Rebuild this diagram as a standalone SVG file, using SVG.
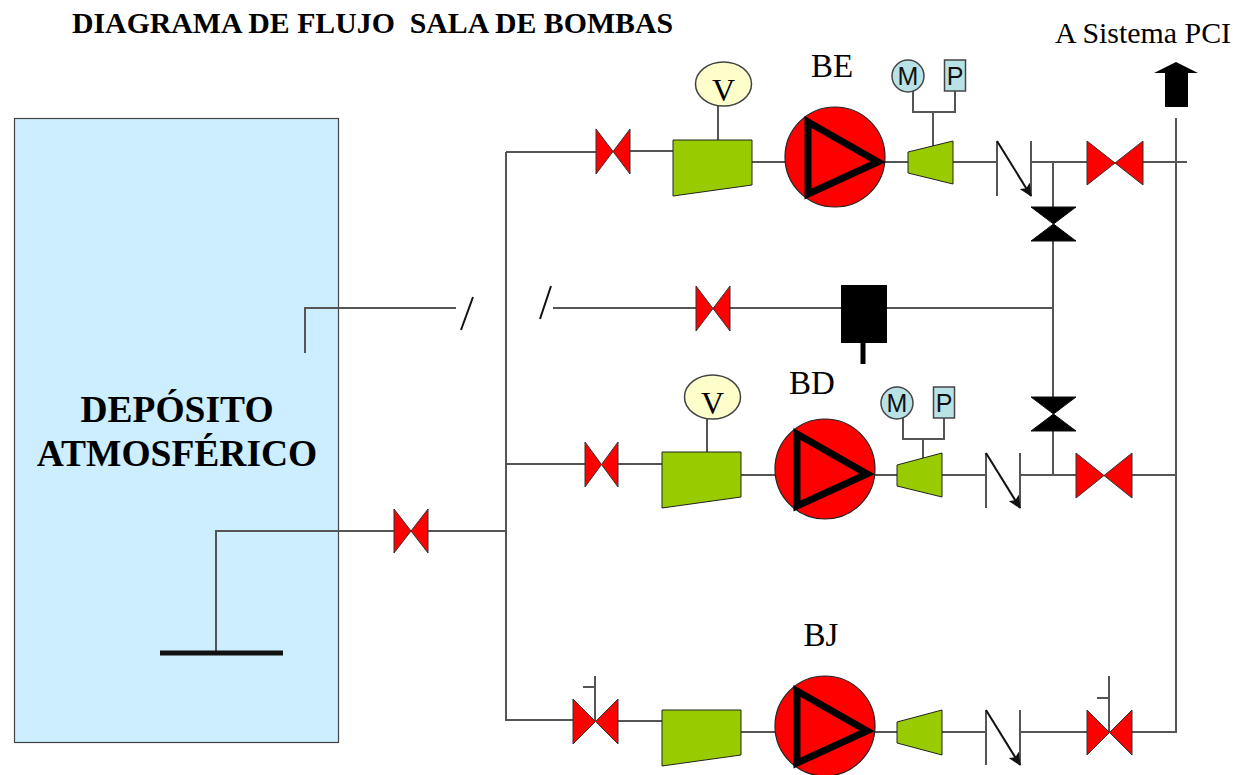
<svg xmlns="http://www.w3.org/2000/svg" width="1251" height="775" viewBox="0 0 1251 775">
<style>
.ln{fill:none;stroke:#555;stroke-width:2}
.blk{fill:none;stroke:#111;stroke-width:2}
.v{fill:#f00;stroke:#333;stroke-width:1}
.g{fill:#9c0;stroke:#222;stroke-width:1}
.p{fill:#f00;stroke:#222;stroke-width:1.2}
.t{fill:none;stroke:#000;stroke-width:7;stroke-linejoin:miter}
.inst{fill:#b9e2e6;stroke:#444;stroke-width:1.5}
.vg{fill:#ffc;stroke:#444;stroke-width:1.5}
.s{font-family:"Liberation Serif",serif;fill:#000}
.a{font-family:"Liberation Sans",sans-serif;fill:#111;font-size:25px;text-anchor:middle}
.b{font-weight:bold}
</style>
<defs>
<marker id="ah" markerWidth="14" markerHeight="12" refX="12" refY="6" orient="auto" markerUnits="userSpaceOnUse"><path d="M0,0L13,6L0,12L3,6Z" fill="#111"/></marker>
</defs>
<rect id="tank" x="14.500" y="118.500" width="324" height="624" fill="#cef" stroke="#444" stroke-width="1.200"/>
<text class="s b" x="72" y="33" font-size="29.800" xml:space="preserve">DIAGRAMA DE FLUJO  SALA DE BOMBAS</text>
<text class="s" x="1055" y="43" font-size="29.900">A Sistema PCI</text>
<text class="s b" x="177" y="422" font-size="37.500" text-anchor="middle">DEPÓSITO</text>
<text class="s b" x="177" y="466" font-size="37.500" text-anchor="middle">ATMOSFÉRICO</text>
<g id="connectors">
<path class="ln" d="M216,653V531H394M428,531H506M506,152V720H573M506,152H596M630,151H673M752,162H785M885,162H908M953,162H997M1031,162H1087M1143,162H1187M1176,118V732H1132M1053,162V207M1053,241V397M1053,431V475M506,464H585M618,464H662M741,475H775M875,475H897M942,475H986M1020,475H1076M1132,475H1176M618,721H662M741,732H775M875,732H897M942,732H986M1020,732H1087"/>
<path class="ln" d="M305,353V308H456M553,308H696M730,308H1053M718,106V140M707,419V452"/>
<path class="ln" d="M913,91V112H955V91M933,112V147M903,418V439H944V418M923,439V460"/>
<path class="ln" d="M595,721V676M583,687H595M1109,732V676M1097,698H1109"/>
<path class="blk" d="M461,330L473,297M540,319L551,286"/>
<path d="M160,653H283" fill="none" stroke="#111" stroke-width="5"/>
</g>
<g id="valve-main"><path class="v" d="M394,509L428,553V509L394,553Z"/></g>
<g id="valve-be-in"><path class="v" d="M596,129L630,174V129L596,174Z"/></g>
<g id="valve-bd-in"><path class="v" d="M585,442L618,487V442L585,487Z"/></g>
<g id="valve-bj-in"><path class="v" d="M573,699L618,744V699L573,744Z"/></g>
<g id="valve-test"><path class="v" d="M696,286L730,331V286L696,331Z"/></g>
<g id="valve-be-out"><path class="v" d="M1087,141L1143,185V141L1087,185Z"/></g>
<g id="valve-bd-out"><path class="v" d="M1076,453L1132,498V453L1076,498Z"/></g>
<g id="valve-bj-out"><path class="v" d="M1087,710L1132,755V710L1087,755Z"/></g>
<g id="valve-black-1"><path d="M1031,207H1076L1031,241H1076Z" fill="#000" stroke="#111"/></g>
<g id="valve-black-2"><path d="M1031,397H1076L1031,431H1076Z" fill="#000" stroke="#111"/></g>
<g id="be-suction"><path class="g" d="M673,140H752V185L673,196Z"/></g>
<g id="bd-suction"><path class="g" d="M662,452H741V497L662,508Z"/></g>
<g id="bj-suction"><path class="g" d="M662,710H741V755L662,766Z"/></g>
<g id="be-discharge"><path class="g" d="M908,152L953,141V184L908,173Z"/></g>
<g id="bd-discharge"><path class="g" d="M897,465L942,453V497L897,486Z"/></g>
<g id="bj-discharge"><path class="g" d="M897,722L942,710V755L897,743Z"/></g>
<g id="pump-be"><circle class="p" cx="835" cy="157" r="50"/><path class="t" d="M808,122V194L878,162Z"/><text class="s" x="832" y="77" font-size="33" text-anchor="middle">BE</text></g>
<g id="pump-bd"><circle class="p" cx="825" cy="469" r="50"/><path class="t" d="M797,434V506L867,474Z"/><text class="s" x="812" y="394" font-size="33" text-anchor="middle">BD</text></g>
<g id="pump-bj"><circle class="p" cx="825" cy="726" r="50"/><path class="t" d="M797,691V763L867,731Z"/><text class="s" x="821" y="646" font-size="33" text-anchor="middle">BJ</text></g>
<g id="check-be"><path class="ln" d="M997,141V196M1031,141V196"/><path class="blk" d="M997,141L1031,196" marker-end="url(#ah)"/></g>
<g id="check-bd"><path class="ln" d="M986,453V508M1020,453V508"/><path class="blk" d="M986,453L1020,508" marker-end="url(#ah)"/></g>
<g id="check-bj"><path class="ln" d="M986,710V765M1020,710V765"/><path class="blk" d="M986,710L1020,765" marker-end="url(#ah)"/></g>
<g id="v-be"><ellipse class="vg" cx="723.500" cy="84" rx="28" ry="22"/><text class="s" x="723.500" y="101" font-size="32" text-anchor="middle">V</text></g>
<g id="v-bd"><ellipse class="vg" cx="712.500" cy="397" rx="28" ry="22"/><text class="s" x="712.500" y="414" font-size="32" text-anchor="middle">V</text></g>
<g id="m-be"><circle class="inst" cx="908" cy="76" r="16"/><text class="a" x="908" y="85">M</text></g>
<g id="p-be"><rect class="inst" x="944.500" y="60" width="21" height="31"/><text class="a" x="955" y="85">P</text></g>
<g id="m-bd"><circle class="inst" cx="897" cy="403" r="16"/><text class="a" x="897" y="412">M</text></g>
<g id="p-bd"><rect class="inst" x="933.500" y="387" width="21" height="31"/><text class="a" x="944" y="412">P</text></g>
<g id="tank-black"><rect x="841" y="285" width="46" height="58" fill="#000"/><rect x="860.500" y="343" width="5" height="21" fill="#000"/></g>
<g id="arrow-up"><path d="M1176,62L1198,73H1188V107H1165V73H1154Z" fill="#000"/></g>
</svg>
